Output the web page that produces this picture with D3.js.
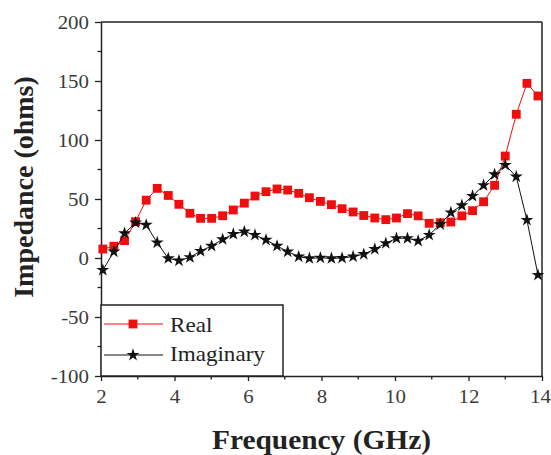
<!DOCTYPE html>
<html>
<head>
<meta charset="utf-8">
<script src="https://cdn.jsdelivr.net/npm/d3@7/dist/d3.min.js"></script>
<style>
  html, body { margin: 0; padding: 0; background: #fff; }
  svg { display: block; }
  text { font-family: "Liberation Serif", "Times New Roman", serif; }
</style>
</head>
<body>
<svg id="chart" width="551" height="455"></svg>
<script>
// Sweep frequencies (GHz)
const frequency = [2.05, 2.35, 2.64, 2.94, 3.23, 3.53, 3.83, 4.12, 4.42, 4.71,
  5.01, 5.31, 5.60, 5.90, 6.19, 6.49, 6.79, 7.08, 7.38, 7.67,
  7.97, 8.27, 8.56, 8.86, 9.15, 9.45, 9.75, 10.04, 10.34, 10.63,
  10.93, 11.23, 11.52, 11.82, 12.11, 12.41, 12.71, 13.00, 13.30, 13.59, 13.89];

// Real part of the input impedance (ohms)
const realPart = [7.6, 10, 14.7, 30.8, 49, 59, 53, 45.5, 37.9, 33.6,
  33.6, 35.8, 40.7, 46.5, 52.5, 56.2, 58.5, 57.6, 54.8, 51.1,
  48, 45.2, 41.8, 39, 36, 33.9, 32.5, 33.9, 37.6, 35.7,
  29.4, 29.9, 30.5, 35.7, 40.1, 47.7, 61.6, 86.4, 121.8, 148, 137.3];

// Imaginary part of the input impedance (ohms)
const imagPart = [-10.2, 5.4, 20.9, 29.9, 28, 13, -0.3, -2.3, 0.6, 5.9,
  10.2, 15.8, 20.3, 22.3, 19.5, 15.3, 10.2, 5.4, 1.1, -0.3,
  0.2, -0.3, 0, 1.2, 3.2, 7.5, 12.5, 16.7, 16.7, 14.5,
  19.5, 28.5, 38.5, 44.6, 52.5, 61.6, 70.8, 78.8, 68.9, 32.2, -14.4];

const xTicks = [2, 4, 6, 8, 10, 12, 14];
const xMinorTicks = [3, 5, 7, 9, 11, 13];
const yTicks = [-100, -50, 0, 50, 100, 150, 200];
const yMinorTicks = [-75, -25, 25, 75, 125, 175];
const seriesNames = ["Real", "Imaginary"];

const svg = d3.select("#chart");
const m = { left: 101, right: 542, top: 22, bottom: 376 };

const x = d3.scaleLinear().domain([2, 14]).range([m.left, m.right]);
const y = d3.scaleLinear().domain([-100, 200]).range([m.bottom, m.top]);

const stretch = 1.1;
const redColor = "#f00d0d";
const ink = "#222";

// frame: top and right edges
svg.append("line").attr("x1", m.left).attr("x2", m.right).attr("y1", m.top).attr("y2", m.top)
  .attr("stroke", ink).attr("stroke-width", 1.5);
svg.append("line").attr("x1", m.right).attr("x2", m.right).attr("y1", m.top).attr("y2", m.bottom)
  .attr("stroke", ink).attr("stroke-width", 1.5);

// bottom axis
const xAxis = svg.append("g").attr("transform", `translate(0,${m.bottom})`)
  .call(d3.axisBottom(x).tickValues(xTicks).tickSize(5).tickSizeOuter(0).tickFormat(d => String(d)));
svg.append("g").attr("transform", `translate(0,${m.bottom})`)
  .selectAll("line").data(xMinorTicks).join("line")
  .attr("x1", d => x(d)).attr("x2", d => x(d)).attr("y1", 0).attr("y2", 3.5)
  .attr("stroke", ink).attr("stroke-width", 1.3);

// left axis
const yAxis = svg.append("g").attr("transform", `translate(${m.left},0)`)
  .call(d3.axisLeft(y).tickValues(yTicks).tickSize(6).tickSizeOuter(0).tickFormat(d => String(d)));
svg.append("g").attr("transform", `translate(${m.left},0)`)
  .selectAll("line").data(yMinorTicks).join("line")
  .attr("x1", -3.5).attr("x2", 0).attr("y1", d => y(d)).attr("y2", d => y(d))
  .attr("stroke", ink).attr("stroke-width", 1.3);

[xAxis, yAxis].forEach(g => {
  g.select(".domain").attr("stroke", ink).attr("stroke-width", 1.5);
  g.selectAll(".tick line").attr("stroke", ink).attr("stroke-width", 1.3);
  g.selectAll(".tick text")
    .attr("fill", "#3a3a3a")
    .style("font-size", "19px")
    .style("font-family", '"Liberation Serif", "Times New Roman", serif');
});
// the last label sits against the page edge, so nudge it inward a little
xAxis.selectAll(".tick text").attr("x", 0).attr("y", 0).attr("dy", null)
  .attr("transform", d => `translate(${d === 14 ? -2 : 0},27) scale(${stretch},1)`);
yAxis.selectAll(".tick text").attr("x", 0).attr("dy", "0.34em")
  .attr("transform", `translate(-12,0) scale(${stretch},1)`);

// axis titles
svg.append("text")
  .attr("transform", `translate(${(m.left + m.right) / 2},449) scale(1.05,1)`)
  .attr("text-anchor", "middle")
  .style("font-size", "28px").style("font-weight", "bold").attr("fill", ink)
  .text("Frequency (GHz)");

svg.append("text")
  .attr("transform", `translate(33,187) rotate(-90)`)
  .attr("text-anchor", "middle")
  .style("font-size", "28px").style("font-weight", "bold").attr("fill", ink)
  .text("Impedance (ohms)");

// series
const plot = svg.append("g");
const line = (vals) => d3.line().x((d, i) => x(frequency[i])).y(d => y(d))(vals);

const squareSym = d3.symbol().type(d3.symbolSquare).size(78);
const starSym = d3.symbol().type(d3.symbolStar).size(52);

plot.append("path").attr("d", line(realPart))
  .attr("fill", "none").attr("stroke", redColor).attr("stroke-width", 1);
plot.selectAll(".sq").data(realPart).join("path")
  .attr("class", "sq")
  .attr("d", squareSym)
  .attr("transform", (d, i) => `translate(${x(frequency[i])},${y(d)})`)
  .attr("fill", redColor);

plot.append("path").attr("d", line(imagPart))
  .attr("fill", "none").attr("stroke", "#111").attr("stroke-width", 1);
plot.selectAll(".st").data(imagPart).join("path")
  .attr("class", "st")
  .attr("d", starSym)
  .attr("transform", (d, i) => `translate(${x(frequency[i])},${y(d)})`)
  .attr("fill", "#111");

// legend
const legend = svg.append("g");
legend.append("rect").attr("x", m.left).attr("y", 305).attr("width", 283 - m.left).attr("height", m.bottom - 305)
  .attr("fill", "#fff").attr("stroke", ink).attr("stroke-width", 1.5);
const legendRows = [
  { name: seriesNames[0], color: redColor, sym: squareSym, y: 324, ty: 332 },
  { name: seriesNames[1], color: "#111", sym: starSym, y: 355, ty: 361 }
];
legendRows.forEach(r => {
  legend.append("line").attr("x1", 104).attr("x2", 163).attr("y1", r.y).attr("y2", r.y)
    .attr("stroke", r.color).attr("stroke-width", 1);
  legend.append("path").attr("d", r.sym).attr("transform", `translate(133,${r.y})`).attr("fill", r.color);
  legend.append("text")
    .attr("transform", `translate(170,${r.ty}) scale(${stretch},1)`)
    .style("font-size", "21px").attr("fill", ink)
    .text(r.name);
});
</script>
</body>
</html>
